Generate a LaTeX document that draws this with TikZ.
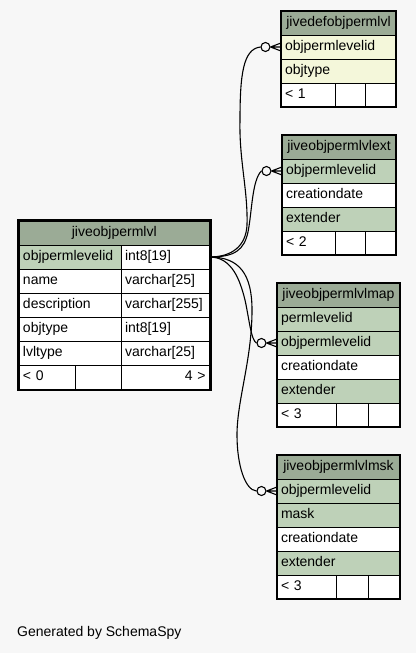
\documentclass[tikz,border=0pt]{standalone}
\usepackage{fontspec}
\setmainfont{Liberation Sans}
\usepackage{xcolor}
\usepackage{tikz}
\usetikzlibrary{
    positioning
}

\definecolor{pagebg}{HTML}{F7F7F7}
\definecolor{headgreen}{HTML}{9BAB96}
\definecolor{keygreen}{HTML}{BED1B8}
\definecolor{deflight}{HTML}{F4F7DA}

\tikzset{
    cell/.style={draw=black, line width=0.8pt, anchor=north west, inner xsep=4pt, inner ysep=0pt,
        outer sep=0pt, minimum height=24pt, text height=10pt, text depth=3pt, align=left,
        font=\fontsize{14}{16}\selectfont},
    headcell/.style={cell, fill=headgreen, align=center, inner xsep=2pt},
    link/.style={line width=1.1pt},
    crowring/.style={circle, draw=black, line width=1.1pt, fill=pagebg, minimum size=9pt, inner sep=0pt}
}

\begin{document}
\begin{tikzpicture}[x=1pt, y=-1pt]
            \fill[pagebg] (0,0) rectangle (416,653);
            \useasboundingbox (0,0) rectangle (416,653);

            % jiveobjpermlvl
            \node[headcell, minimum width=190.5pt] (main-h) at (19,221) {jiveobjpermlvl};
            \foreach \col/\typ/\fc [count=\i] in {objpermlevelid/int8[19]/keygreen, name/varchar[25]/white,
                description/varchar[255]/white, objtype/int8[19]/white, lvltype/varchar[25]/white} {
                \node[cell, fill=\fc, text width=94pt] (main-\i) at (19,{221+24*\i}) {\col};
                \node[cell, fill=white, text width=80.5pt] (main-\i-t) at (121,{221+24*\i}) {\typ};
            }
            \node[cell, fill=white, text width=48pt] (main-f1) at (19,365) {< 0};
            \node[cell, fill=white, minimum width=46pt] (main-f2) at (75,365) {};
            \node[cell, fill=white, text width=80.5pt, align=right] (main-f3) at (121,365) {4 >};
            \draw[line width=2.7pt] (18,220) rectangle (210.7,390);

            % jivedefobjpermlvl
            \node[headcell, minimum width=115pt] (def-h) at (281,11) {jivedefobjpermlvl};
            \foreach \col [count=\i] in {objpermlevelid, objtype} {
                \node[cell, fill=deflight, text width=107pt] (def-\i) at (281,{11+24*\i}) {\col};
            }
            \node[cell, fill=white, text width=46.7pt] (def-f1) at (281,83) {< 1};
            \node[cell, fill=white, minimum width=29.3pt] (def-f2) at (335.7,83) {};
            \node[cell, fill=white, minimum width=31pt] (def-f3) at (365,83) {};
            \draw[line width=1.1pt] (def-h.north west) rectangle (def-f3.south east);

            % jiveobjpermlvlext
            \node[headcell, minimum width=114pt] (ext-h) at (282,135) {jiveobjpermlvlext};
            \foreach \col/\fc [count=\i] in {objpermlevelid/keygreen, creationdate/white, extender/keygreen} {
                \node[cell, fill=\fc, text width=106pt] (ext-\i) at (282,{135+24*\i}) {\col};
            }
            \node[cell, fill=white, text width=45.7pt] (ext-f1) at (282,231) {< 2};
            \node[cell, fill=white, minimum width=29.3pt] (ext-f2) at (335.7,231) {};
            \node[cell, fill=white, minimum width=31pt] (ext-f3) at (365,231) {};
            \draw[line width=1.1pt] (ext-h.north west) rectangle (ext-f3.south east);

            % jiveobjpermlvlmap
            \node[headcell, minimum width=123pt] (map-h) at (277,283) {jiveobjpermlvlmap};
            \foreach \col/\fc [count=\i] in {permlevelid/keygreen, objpermlevelid/keygreen,
                creationdate/white, extender/keygreen} {
                \node[cell, fill=\fc, text width=115pt] (map-\i) at (277,{283+24*\i}) {\col};
            }
            \node[cell, fill=white, text width=51pt] (map-f1) at (277,403) {< 3};
            \node[cell, fill=white, minimum width=32pt] (map-f2) at (336,403) {};
            \node[cell, fill=white, minimum width=32pt] (map-f3) at (368,403) {};
            \draw[line width=1.1pt] (map-h.north west) rectangle (map-f3.south east);

            % jiveobjpermlvlmsk
            \node[headcell, minimum width=123pt] (msk-h) at (277,455) {jiveobjpermlvlmsk};
            \foreach \col/\fc [count=\i] in {objpermlevelid/keygreen, mask/keygreen,
                creationdate/white, extender/keygreen} {
                \node[cell, fill=\fc, text width=115pt] (msk-\i) at (277,{455+24*\i}) {\col};
            }
            \node[cell, fill=white, text width=51pt] (msk-f1) at (277,575) {< 3};
            \node[cell, fill=white, minimum width=32pt] (msk-f2) at (336,575) {};
            \node[cell, fill=white, minimum width=32pt] (msk-f3) at (368,575) {};
            \draw[line width=1.1pt] (msk-h.north west) rectangle (msk-f3.south east);

            % zero-or-many ends
            \node[crowring, left=10.5pt of def-1] (def-o) {};
            \node[crowring, left=10.5pt of ext-1] (ext-o) {};
            \node[crowring, left=10.5pt of map-2] (map-o) {};
            \node[crowring, left=10.5pt of msk-1] (msk-o) {};
            \foreach \t/\r in {def/def-1, ext/ext-1, map/map-2, msk/msk-1} {
                \draw[link] (\t-o.east) -- ([yshift=4pt]\r.west) (\t-o.east) -- (\r.west)
                    (\t-o.east) -- ([yshift=-4pt]\r.west);
            }

            \draw[link] (main-1-t.east) .. controls (232,257) and (246,246) .. (247,225)
                .. controls (248,190) and (239,160) .. (240,120)
                .. controls (240,75) and (243,49) .. (def-o.west);
            \draw[link] (main-1-t.east) .. controls (235,257) and (244,250) .. (248,232)
                .. controls (252,212) and (252,180) .. (ext-o.west);
            \draw[link] (main-1-t.east) .. controls (232,257) and (240,280) .. (245,300)
                .. controls (249,318) and (251,340) .. (map-o.west);
            \draw[link] (main-1-t.east) .. controls (240,257) and (252,275) .. (252,310)
                .. controls (252,360) and (237,400) .. (237,435)
                .. controls (237,465) and (245,490) .. (msk-o.west);

            \node[anchor=west, inner sep=0pt, font=\fontsize{14}{16}\selectfont] (credit) at (17,633) {Generated by SchemaSpy};
        \end{tikzpicture}
\end{document}
